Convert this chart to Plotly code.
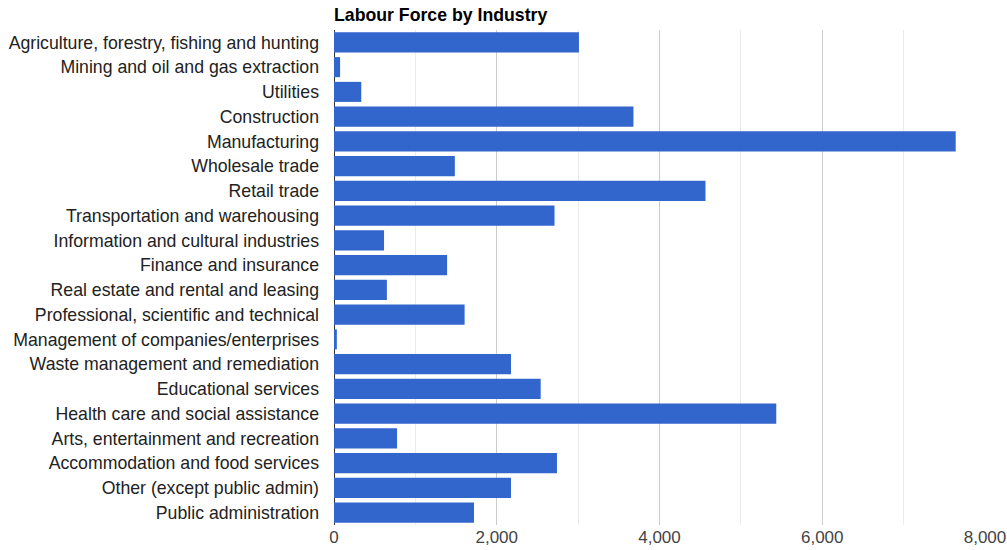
import plotly.graph_objects as go

industries = [
    "Agriculture, forestry, fishing and hunting",
    "Mining and oil and gas extraction",
    "Utilities",
    "Construction",
    "Manufacturing",
    "Wholesale trade",
    "Retail trade",
    "Transportation and warehousing",
    "Information and cultural industries",
    "Finance and insurance",
    "Real estate and rental and leasing",
    "Professional, scientific and technical",
    "Management of companies/enterprises",
    "Waste management and remediation",
    "Educational services",
    "Health care and social assistance",
    "Arts, entertainment and recreation",
    "Accommodation and food services",
    "Other (except public admin)",
    "Public administration",
]
labour_force = [3010, 75, 335, 3680, 7640, 1485, 4565, 2710, 615, 1390,
                650, 1605, 35, 2175, 2540, 5435, 775, 2740, 2175, 1720]
x_ticks = [0, 2000, 4000, 6000, 8000]
x_tick_labels = ["0", "2,000", "4,000", "6,000", "8,000"]

fig = go.Figure(go.Bar(
    x=labour_force,
    y=industries,
    orientation="h",
    marker=dict(color="#3366cc", line=dict(width=0)),
    hoverinfo="x+y",
))

W, H = 1007, 550
FONT = "Liberation Sans, Arial, sans-serif"
fig.update_layout(
    width=W, height=H,
    margin=dict(l=334, r=22, t=30, b=25, pad=0, autoexpand=False),
    paper_bgcolor="white",
    plot_bgcolor="white",
    bargap=0.19,
    showlegend=False,
    font=dict(family=FONT, size=17.7, color="#222222"),
    title=dict(
        text="<b>Labour Force by Industry</b>",
        x=0, xanchor="left", xref="paper",
        y=1 - 15 / H, yanchor="middle", yref="container",
        font=dict(size=17.7, color="#000000", family=FONT),
    ),
    xaxis=dict(
        range=[0, 8000],
        tickvals=x_ticks,
        ticktext=x_tick_labels,
        showgrid=True,
        gridcolor="#cccccc",
        gridwidth=1,
        minor=dict(dtick=1000, showgrid=True, gridcolor="#ebebeb", gridwidth=1),
        zeroline=True,
        zerolinecolor="#333333",
        zerolinewidth=1,
        showline=False,
        ticks="",
        tickfont=dict(size=17, color="#444444"),
        automargin=False,
        fixedrange=True,
    ),
    yaxis=dict(
        categoryorder="array",
        categoryarray=industries,
        autorange="reversed",
        showgrid=False,
        zeroline=False,
        showline=False,
        ticks="",
        ticklabelstandoff=14,
        tickfont=dict(size=17.7, color="#222222"),
        automargin=False,
        fixedrange=True,
    ),
)

fig.write_html(
    "out.html",
    config={"displayModeBar": False},
    post_script="document.body.style.margin='0';document.body.style.overflow='hidden';",
)
